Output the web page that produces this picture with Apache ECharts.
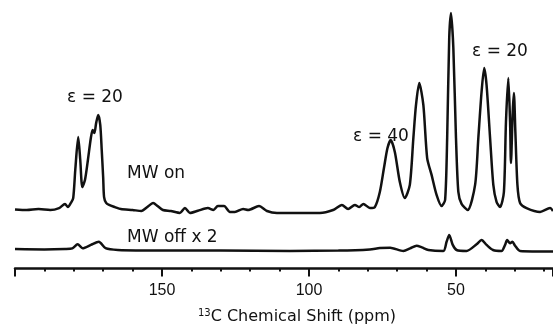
<!DOCTYPE html>
<html><head><meta charset="utf-8">
<script src="https://cdn.jsdelivr.net/npm/echarts@6/dist/echarts.min.js"></script>
<style>html,body{margin:0;padding:0;background:#fff}#c{width:553px;height:326px}</style>
</head><body><div id="c"></div>
<script>
// 13C chemical shift (ppm) and intensity (a.u., tallest peak = 100) for MW on
const mwOnShift = [200,196,192,188,185,183,182,181,180.2,179.5,178.5,177.8,177.1,176.2,175.2,174.2,173.6,173.0,172.4,171.7,171.0,170.5,170.0,169.7,169.0,168.0,166.0,164.0,160.0,157,155,153,151.5,149.7,147,143.9,142.2,140.5,137.8,134.4,132.5,131.0,128.9,126.9,125.2,122.4,120.7,117.0,114.3,110.9,105.4,100,96.3,91.8,88.8,86.7,84.4,82.9,81.5,79.3,77.6,75.9,74.5,73.3,72.2,70.8,69.1,67.4,65.7,64.5,63.6,62.5,61.1,59.8,58.3,56.6,54.9,53.7,53.0,52.3,51.7,50.9,50.0,49.2,48.1,46.0,43.5,42.4,41.3,40.4,39.6,38.4,37.3,36.2,35.0,33.7,33.0,32.2,31.6,31.3,30.7,30.3,29.8,29.1,28.2,26.0,21.4,18.0,17.0];
const mwOnIntensity = [0.3,0,0.5,0,1.0,3.1,1.5,3.6,6.1,20.4,37.2,25.5,11.7,15.3,25.5,36.7,40.8,39.3,44.4,48.5,43.4,30.6,16.3,6.6,3.6,2.6,1.5,0.5,0,-0.5,1.5,3.6,2.0,0,-0.5,-1.5,1.0,-1.5,-0.4,1.0,0,2.0,2.0,-1.0,-1.0,0.5,0,2.0,-0.5,-1.5,-1.5,-1.5,-1.5,0,2.6,0.5,2.6,1.5,3.1,1.0,1.5,9.2,21.4,31.6,35.7,29.6,14.3,6.1,12.8,36.7,53.6,64.8,53.6,26.5,17.9,7.7,2.0,5.1,36.7,87.8,100.5,82.7,36.7,9.2,3.1,0,12.8,36.7,60.2,72.4,63.8,36.7,12.8,4.1,1.5,9.2,44.9,67.3,44.9,24.0,50.0,59.7,39.8,12.8,3.6,1.0,-1.0,1.0,-0.5];
// MW off (displayed x 2)
const mwOffShift = [200,190,183,180.5,178.7,177.0,174.2,171.5,169.2,165,150,130,106.5,90,79.3,75.9,72.4,67.9,65.6,63.4,61.6,59.4,54.3,53.2,52.3,51.1,49.8,46.4,43.0,41.3,39.6,37.4,34.5,33.3,32.6,31.6,30.8,29.9,28.2,17];
const mwOffIntensity = [0.5,0.3,0.5,0.8,2.9,0.9,2.6,4.2,0.9,0,-0.3,-0.3,-0.5,-0.3,0.3,1.0,1.2,-0.5,0.8,2.2,1.3,0,-0.5,4.2,7.7,2.6,0,-0.5,2.9,5.1,2.6,0,-0.5,2.6,5.1,3.4,4.2,2.2,-0.5,-0.8];
const tickLabels = [150, 100, 50];
const axisTitle = 'C Chemical Shift (ppm)';
const axisTitleSup = '13';

const zip = (a, b) => a.map((v, i) => [v, b[i]]);
const chart = echarts.init(document.getElementById('c'), null, {renderer: 'canvas'});
const FONT = '"DejaVu Sans", sans-serif';
const SHIFT_MIN = 17, SHIFT_MAX = 200;
chart.setOption({
  animation: false,
  backgroundColor: '#fff',
  grid: [
    {left: 15, right: 0, top: 14, height: 215.6},
    {left: 15, right: 0, top: 230.4, height: 38.0}
  ],
  xAxis: [
    {gridIndex: 0, type: 'value', min: SHIFT_MIN, max: SHIFT_MAX, inverse: true, show: false},
    {gridIndex: 1, type: 'value', min: SHIFT_MIN, max: SHIFT_MAX, splitNumber: 4, inverse: true,
     axisLine: {show: true, onZero: false, lineStyle: {color: '#111', width: 2.5}},
     axisTick: {show: true, length: 8, lineStyle: {color: '#111', width: 2}},
     minorTick: {show: true, splitNumber: 5, length: 3, lineStyle: {color: '#111', width: 2}},
     splitLine: {show: false}, minorSplitLine: {show: false},
     axisLabel: {margin: 14, fontSize: 16, color: '#111', fontFamily: 'Liberation Sans',
       showMinLabel: false, showMaxLabel: false,
       formatter: v => tickLabels.includes(v) ? String(v) : ''}}
  ],
  yAxis: [
    {gridIndex: 0, type: 'value', min: -10, max: 100, show: false},
    {gridIndex: 1, type: 'value', min: -9.4, max: 10, show: false}
  ],
  series: [
    {type: 'line', xAxisIndex: 0, yAxisIndex: 0, data: zip(mwOnShift, mwOnIntensity),
     showSymbol: false, smooth: 0.25, clip: false, lineStyle: {color: '#111', width: 2.5}},
    {type: 'line', xAxisIndex: 1, yAxisIndex: 1, data: zip(mwOffShift, mwOffIntensity),
     showSymbol: false, smooth: 0.25, clip: false, lineStyle: {color: '#111', width: 2.5}}
  ],
  graphic: [
    {type: 'text', x: 95, y: 98, style: {text: 'ε = 20', font: '17px ' + FONT, fill: '#111', align: 'center', verticalAlign: 'middle'}},
    {type: 'text', x: 127, y: 174, style: {text: 'MW on', font: '17px ' + FONT, fill: '#111', align: 'left', verticalAlign: 'middle'}},
    {type: 'text', x: 127, y: 238, style: {text: 'MW off x 2', font: '17px ' + FONT, fill: '#111', align: 'left', verticalAlign: 'middle'}},
    {type: 'text', x: 381, y: 137, style: {text: 'ε = 40', font: '17px ' + FONT, fill: '#111', align: 'center', verticalAlign: 'middle'}},
    {type: 'text', x: 500, y: 52, style: {text: 'ε = 20', font: '17px ' + FONT, fill: '#111', align: 'center', verticalAlign: 'middle'}},
    {type: 'text', x: 297, y: 317, style: {
      text: '{sup|' + axisTitleSup + '}{main|' + axisTitle + '}',
      align: 'center', verticalAlign: 'middle', fill: '#111',
      rich: {
        sup: {fontSize: 10, fontFamily: FONT, verticalAlign: 'top', fill: '#111', lineHeight: 18},
        main: {fontSize: 16, fontFamily: FONT, fill: '#111', lineHeight: 18}
      }}}
  ]
});
</script></body></html>
